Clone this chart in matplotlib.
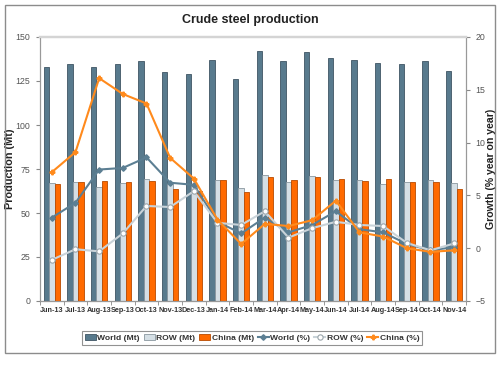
import matplotlib
matplotlib.use("Agg")
import matplotlib.pyplot as plt
import numpy as np
from matplotlib.patches import Rectangle

plt.rcParams['font.family'] = ['Liberation Sans', 'DejaVu Sans']

months = ["Jun-13", "Jul-13", "Aug-13", "Sep-13", "Oct-13", "Nov-13", "Dec-13", "Jan-14",
          "Feb-14", "Mar-14", "Apr-14", "May-14", "Jun-14", "Jul-14", "Aug-14", "Sep-14",
          "Oct-14", "Nov-14"]
world_mt = [133.1, 134.7, 133.0, 134.7, 136.5, 130.3, 129.0, 137.1, 126.0, 141.9, 136.5,
            141.3, 137.9, 137.1, 135.0, 134.8, 136.4, 130.7]
row_mt = [66.9, 67.4, 64.9, 67.0, 69.1, 66.5, 65.3, 68.6, 64.0, 71.4, 67.8, 71.0, 68.6,
          68.75, 66.3, 67.4, 68.9, 67.2]
china_mt = [66.3, 67.4, 68.3, 67.6, 68.0, 63.6, 62.5, 68.75, 62.1, 70.5, 68.75, 70.6, 69.3,
            68.4, 69.1, 67.4, 67.4, 63.5]
world_pct = [2.9, 4.3, 7.45, 7.6, 8.6, 6.2, 6.0, 2.5, 1.4, 2.9, 1.5, 2.2, 3.5, 1.8, 1.5,
             0.4, -0.2, 0.1]
row_pct = [-1.1, -0.1, -0.3, 1.4, 4.0, 3.9, 5.4, 2.4, 2.2, 3.5, 1.0, 1.9, 2.5, 2.2, 2.1,
           0.5, -0.2, 0.45]
china_pct = [7.2, 9.1, 16.1, 14.6, 13.7, 8.55, 6.6, 2.7, 0.4, 2.3, 2.1, 2.65, 4.5, 1.5,
             1.1, 0.0, -0.35, -0.2]

c_world = '#587a8d'
c_row = '#d5dfe5'
c_china = '#ff6a00'
c_world_l = '#5c7f93'
c_row_l = '#c9d3d9'
c_china_l = '#ff8a1c'

fig = plt.figure(figsize=(5.01, 3.65), dpi=100)
fig.patches.append(Rectangle((5/501, 1-353/365), 490/501, 348/365, transform=fig.transFigure,
                             fill=False, edgecolor='#8c8c8c', linewidth=1.0))
ax = fig.add_axes([40/501, 1-301/365, 426/501, 264/365])
ax2 = ax.twinx()

x = np.arange(len(months))
w = 0.23
ax.bar(x - w, world_mt, w, color=c_world, edgecolor='#3f5563', linewidth=0.6, label='World (Mt)')
ax.bar(x, row_mt, w, color=c_row, edgecolor='#8a979f', linewidth=0.6, label='ROW (Mt)')
ax.bar(x + w, china_mt, w, color=c_china, edgecolor='#b84a00', linewidth=0.6, label='China (Mt)')

ax2.plot(x, world_pct, color=c_world_l, lw=1.5, marker='D', ms=2.8, mfc=c_world_l,
         mec=c_world_l, label='World (%)')
ax2.plot(x, row_pct, color=c_row_l, lw=1.5, marker='o', ms=3.8, mfc='white',
         mec='#9aa5ab', mew=0.8, label='ROW (%)')
ax2.plot(x, china_pct, color=c_china_l, lw=1.5, marker='P', ms=3.3, mfc=c_china_l,
         mec=c_china_l, label='China (%)')

ax.set_xlim(-0.5, len(months) - 0.5)
ax.set_ylim(0, 150)
ax.set_yticks(range(0, 151, 25))
ax2.set_ylim(-5, 20)
ax2.set_yticks(range(-5, 21, 5))
ax.set_xticks(x)
ax.set_xticklabels(months, fontsize=5.2, fontweight='bold', color='#333333')
ax.set_xticks(np.arange(-0.5, len(months), 1), minor=True)
ax.tick_params(axis='x', which='major', length=0, pad=4)
ax.tick_params(axis='x', which='minor', length=3, color='#888888', direction='out')
ax.tick_params(axis='y', labelsize=6.3, colors='#555555', length=3, color='#888888', pad=4)
ax2.tick_params(axis='y', labelsize=6.3, colors='#555555', length=3, color='#888888', pad=4)

for a in (ax, ax2):
    for s in a.spines.values():
        s.set_color('#999999')
        s.set_linewidth(0.8)
    a.spines['top'].set_color('#d4d4d4')
    a.spines['top'].set_linewidth(1.6)
ax.spines['bottom'].set_color('#666666')

ax.set_ylabel('Production (Mt)', fontsize=7.8, fontweight='bold', color='#222222')
ax2.set_ylabel('Growth (% year on year)', fontsize=7.6, fontweight='bold', color='#222222')
ax.yaxis.set_label_coords((15 - 40) / 426, 0.5)
ax2.yaxis.set_label_coords((486 - 40) / 426, 0.5)
fig.text(0.5, 1-20/365, 'Crude steel production', ha='center', va='center', fontsize=9,
         fontweight='bold', color='#222222')

h1, l1 = ax.get_legend_handles_labels()
h2, l2 = ax2.get_legend_handles_labels()
leg = fig.legend(h1 + h2, l1 + l2, loc='center', bbox_to_anchor=(252/501, 1-338/365), ncol=6,
                 prop={'weight': 'bold', 'size': 6.1}, frameon=True, fancybox=False,
                 edgecolor='#777777', handlelength=1.3, handletextpad=0.15, columnspacing=0.5,
                 borderpad=0.35, handleheight=0.6)
leg.get_frame().set_linewidth(0.8)
for t in leg.get_texts():
    t.set_color('#333333')

fig.savefig('out.png', dpi=100)
